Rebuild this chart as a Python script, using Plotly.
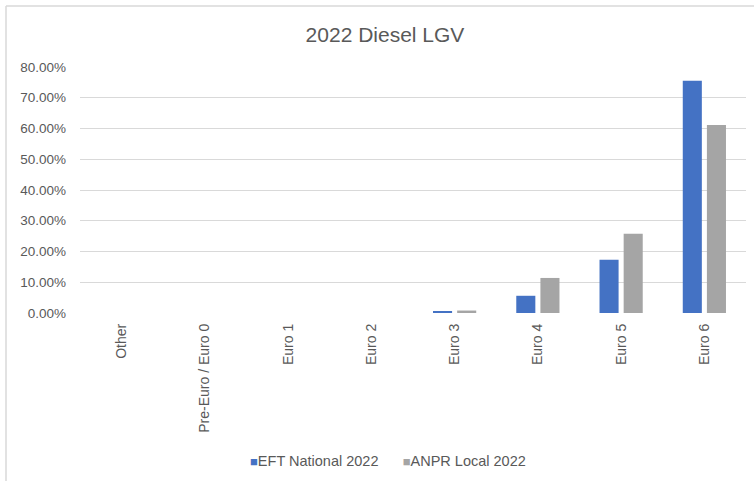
import plotly.graph_objects as go

categories = ["Other", "Pre-Euro / Euro 0", "Euro 1", "Euro 2", "Euro 3", "Euro 4", "Euro 5", "Euro 6"]
eft_national = [0.0, 0.0, 0.0, 0.0, 0.004, 0.056, 0.173, 0.755]
anpr_local = [0.0, 0.0, 0.0, 0.0, 0.008, 0.114, 0.258, 0.611]
tick_vals = [0, 0.1, 0.2, 0.3, 0.4, 0.5, 0.6, 0.7, 0.8]
tick_text = ["0.00%", "10.00%", "20.00%", "30.00%", "40.00%", "50.00%", "60.00%", "70.00%", "80.00%"]
series_names = ["EFT National 2022", "ANPR Local 2022"]
series_colors = ["#4472C4", "#A5A5A5"]

L, R, T, B = 80, 8, 67, 168
W, H = 754, 481

fig = go.Figure()
fig.add_trace(go.Bar(name=series_names[0], x=categories, y=eft_national,
                     marker=dict(color=series_colors[0], line=dict(width=0))))
fig.add_trace(go.Bar(name=series_names[1], x=categories, y=anpr_local,
                     marker=dict(color=series_colors[1], line=dict(width=0))))

pw = W - L - R
ph = H - T - B
def px(x):
    return (x - L) / pw
def py(y):
    return (H - B - y) / ph

legend_text = (f"<span style='color:{series_colors[0]};font-size:13px'>■</span>{series_names[0]}"
               f"&nbsp;&nbsp;&nbsp;&nbsp;&nbsp;&nbsp;"
               f"<span style='color:{series_colors[1]};font-size:13px'>■</span>{series_names[1]}")

fig.update_layout(
    width=W, height=H,
    margin=dict(l=L, r=R, t=T, b=B),
    paper_bgcolor="white", plot_bgcolor="white",
    font=dict(family="Liberation Sans, Arial, sans-serif", color="#595959", size=13),
    title=dict(text="2022 Diesel LGV", x=px(385), xref="paper", xanchor="center",
               y=1 - 35 / H, yanchor="middle",
               font=dict(size=21, color="#595959")),
    barmode="group", bargap=0.42, bargroupgap=0.21,
    showlegend=False,
    xaxis=dict(tickangle=-90, showgrid=False, showline=False, ticks="",
               ticklabelstandoff=7,
               tickfont=dict(size=14, color="#595959")),
    yaxis=dict(range=[0, 0.8], tickvals=tick_vals, ticktext=tick_text,
               showgrid=True, gridcolor="#D9D9D9", gridwidth=1, zeroline=False,
               showline=False, ticks="", ticklabelstandoff=13,
               tickfont=dict(size=13.5, color="#595959")),
    annotations=[
        dict(text=legend_text, xref="paper", yref="paper", x=px(388), y=py(461),
             xanchor="center", yanchor="middle", showarrow=False,
             font=dict(size=14.5, color="#595959")),
    ],
    shapes=[
        dict(type="line", xref="paper", yref="paper", x0=px(6), x1=px(754), y0=py(6), y1=py(6),
             line=dict(color="#D9D9D9", width=1.5)),
        dict(type="line", xref="paper", yref="paper", x0=px(6), x1=px(6), y0=py(6), y1=py(481),
             line=dict(color="#D9D9D9", width=1.5)),
    ],
)
fig.write_html("out.html")
